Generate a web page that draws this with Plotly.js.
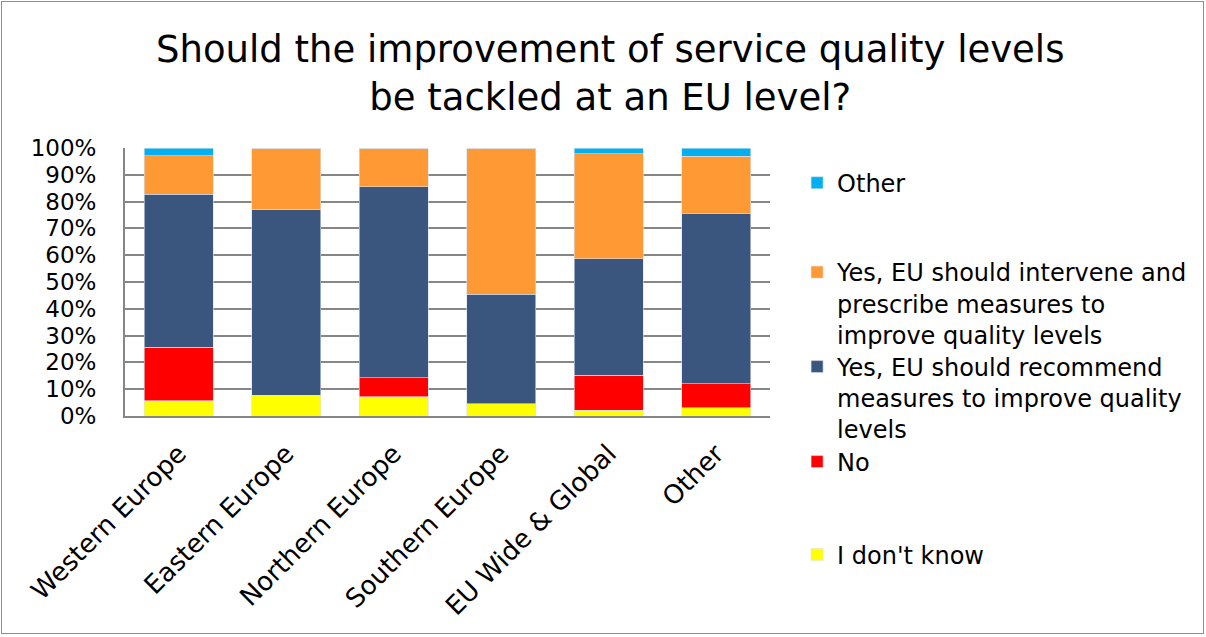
<!DOCTYPE html>
<html>
<head>
<meta charset="utf-8">
<script src="https://cdn.plot.ly/plotly-3.0.1.min.js"></script>
<style>
  html, body { margin: 0; padding: 0; background: #fff; }
  #wrap { position: relative; width: 1206px; height: 637px; }
  #chart { width: 1206px; height: 637px; }
  #frame { position: absolute; left: 1px; top: 1px; width: 1201px; height: 631px; border: 1px solid #8c8c8c; pointer-events: none; }
</style>
</head>
<body>
<div id="wrap"><div id="chart"></div><div id="frame"></div></div>
<script>
const categories = ["Western Europe", "Eastern Europe", "Northern Europe", "Southern Europe", "EU Wide & Global", "Other"];
const dontKnow   = [5.7, 7.7, 7.1, 4.5, 2.2, 3.0];
const no         = [20.0, 0, 7.1, 0, 13.0, 9.1];
const recommend  = [57.1, 69.2, 71.4, 40.9, 43.5, 63.6];
const intervene  = [14.3, 23.1, 14.3, 54.5, 39.1, 21.2];
const other      = [2.9, 0, 0, 0, 2.2, 3.0];

const seriesNames = [
  "I don't know",
  "No",
  "Yes, EU should recommend<br>measures to improve quality<br>levels",
  "Yes, EU should intervene and<br>prescribe measures to<br>improve quality levels",
  "Other"
];
const seriesValues = [dontKnow, no, recommend, intervene, other];
const colors = ["#FFFF00", "#FF0000", "#3A567E", "#FF9933", "#00B0F0"];
const legendIds = ["legend5", "legend4", "legend3", "legend2", "legend"];

const traces = seriesValues.map((vals, i) => ({
  type: "bar",
  name: seriesNames[i],
  x: categories,
  y: vals.map(v => v / 100),
  marker: { color: colors[i], line: { width: 0.75, color: "rgba(220,225,235,0.8)" } },
  legend: legendIds[i],
  hoverinfo: "x+y+name"
}));

const fontFam = "DejaVu Sans, Verdana, sans-serif";
function leg(y) {
  return {
    x: 1.042, xanchor: "left", y: y, yanchor: "middle",
    font: { family: fontFam, size: 24, color: "#000" },
    bgcolor: "rgba(0,0,0,0)", valign: "top", itemclick: false, itemdoubleclick: false
  };
}

const layout = {
  width: 1206, height: 637,
  margin: { l: 125, r: 436, t: 148, b: 221 },
  paper_bgcolor: "#fff", plot_bgcolor: "#fff",
  barmode: "stack",
  bargap: 0.36,
  title: {
    text: "Should the improvement of service quality levels<br>be tackled at an EU level?",
    font: { family: fontFam, size: 37, color: "#000" },
    x: 0.506, xanchor: "center", yref: "container", y: 0.903, yanchor: "middle"
  },
  font: { family: fontFam, color: "#000" },
  xaxis: {
    type: "category",
    tickangle: -45,
    tickfont: { family: fontFam, size: 26, color: "#000" },
    showline: true, linecolor: "#868686", linewidth: 2,
    ticks: "", showgrid: false, fixedrange: true, ticklabelstandoff: 10
  },
  yaxis: {
    range: [0, 1], dtick: 0.1, tickformat: ".0%",
    tickfont: { family: fontFam, size: 23, color: "#000" },
    showline: true, linecolor: "#868686", linewidth: 2,
    showgrid: true, gridcolor: "#868686", gridwidth: 2,
    ticks: "", ticklabelstandoff: 22, zeroline: false, fixedrange: true
  },
  showlegend: true,
  legend: leg(0.869),
  legend2: leg(0.4198),
  legend3: leg(0.0672),
  legend4: leg(-0.1716),
  legend5: leg(-0.5187)
};

Plotly.newPlot("chart", traces, layout, { displayModeBar: false, staticPlot: false });
</script>
</body>
</html>
